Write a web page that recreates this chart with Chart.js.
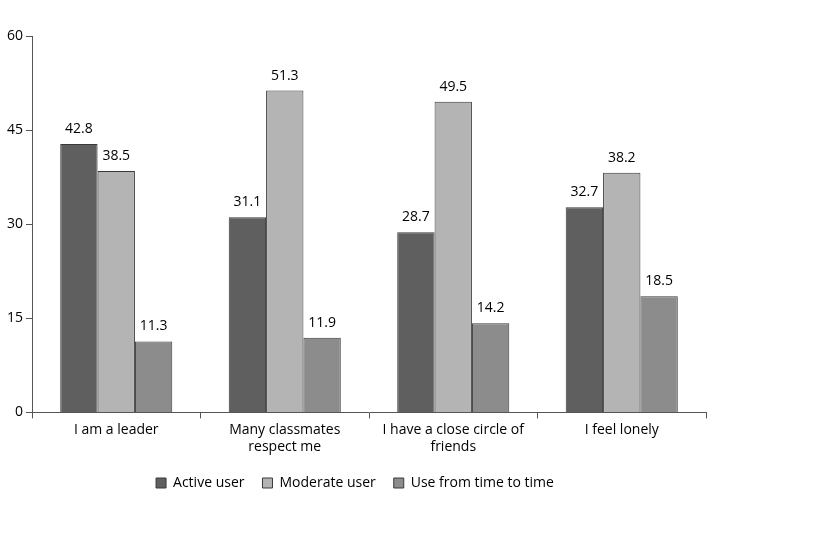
<!DOCTYPE html>
<html>
<head>
<meta charset="utf-8">
<script src="https://cdn.jsdelivr.net/npm/chart.js@4"></script>
<style>
  body { margin: 0; background: #fff; }
</style>
</head>
<body>
<canvas id="grafico" width="822" height="550"></canvas>
<script>
// dados
const categorias = [['I am a leader'], ['Many classmates', 'respect me'], ['I have a close circle of', 'friends'], ['I feel lonely']];
const ativo = [42.8, 31.1, 28.7, 32.7];
const moderado = [38.5, 51.3, 49.5, 38.2];
const ocasional = [11.3, 11.9, 14.2, 18.5];
const ticksY = [0, 15, 30, 45, 60];

const fonte = 'Open Sans, Liberation Sans, sans-serif';

// rótulos acima das barras
const rotulos = {
  id: 'rotulos',
  afterDatasetsDraw(chart) {
    const ctx = chart.ctx;
    ctx.save();
    ctx.font = '14px ' + fonte;
    ctx.fillStyle = '#000';
    ctx.textAlign = 'center';
    ctx.textBaseline = 'bottom';
    chart.data.datasets.forEach((ds, i) => {
      chart.getDatasetMeta(i).data.forEach((bar, j) => {
        ctx.fillText(ds.data[j].toFixed(1), bar.x, bar.y - 8);
      });
    });
    ctx.restore();
  }
};

new Chart(document.getElementById('grafico'), {
  type: 'bar',
  data: {
    labels: categorias,
    datasets: [
      { label: 'Active user', data: ativo, backgroundColor: '#5f5f5f', borderColor: '#3a3a3a', borderWidth: 1 },
      { label: 'Moderate user', data: moderado, backgroundColor: '#b4b4b4', borderColor: '#3a3a3a', borderWidth: 1 },
      { label: 'Use from time to time', data: ocasional, backgroundColor: '#8c8c8c', borderColor: '#3a3a3a', borderWidth: 1 }
    ]
  },
  options: {
    responsive: false,
    animation: false,
    devicePixelRatio: 1,
    layout: { padding: { left: 4, right: 116, top: 36, bottom: 50 } },
    datasets: { bar: { categoryPercentage: 0.665, barPercentage: 1 } },
    plugins: {
      legend: {
        position: 'bottom',
        labels: { font: { family: fonte, size: 14 }, color: '#000', boxWidth: 10, boxHeight: 10, padding: 18 }
      },
      tooltip: { enabled: false }
    },
    scales: {
      x: {
        grid: { display: true, drawOnChartArea: false, offset: true, color: '#555', tickLength: 6 },
        border: { color: '#555' },
        ticks: { font: { family: fonte, size: 14 }, color: '#000', maxRotation: 0 }
      },
      y: {
        min: 0, max: 60,
        afterBuildTicks(axis) { axis.ticks = ticksY.map(v => ({ value: v })); },
        grid: { display: true, drawOnChartArea: false, color: '#555', tickLength: 6 },
        border: { color: '#555' },
        ticks: { font: { family: fonte, size: 14 }, color: '#000' }
      }
    }
  },
  plugins: [rotulos]
});
</script>
</body>
</html>
